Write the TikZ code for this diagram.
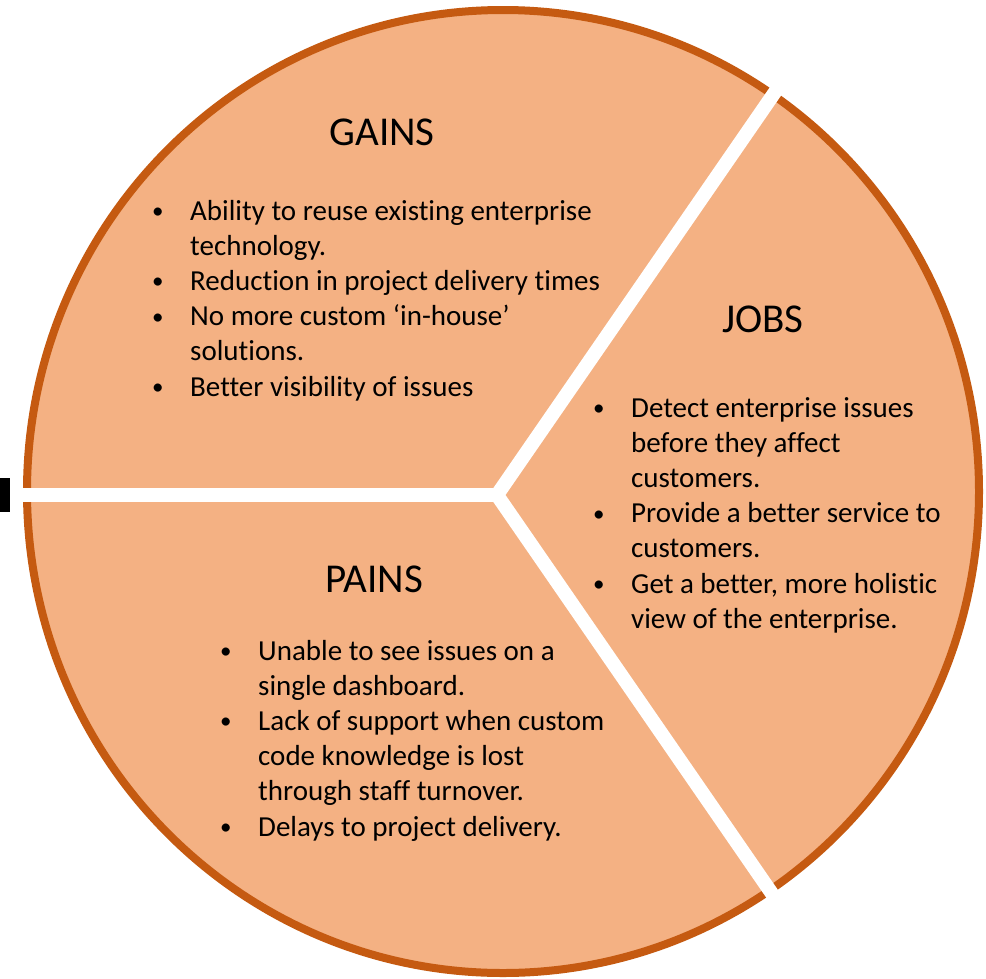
\documentclass[tikz,border=0pt]{standalone}
\usepackage{fontspec}
\setmainfont{Carlito}[Ligatures=NoCommon]
\definecolor{pfill}{HTML}{F4B183}
\definecolor{pedge}{HTML}{C55A11}
\newcommand\vpitem[1]{\par\noindent\hangindent=42pt\hangafter=1\makebox[42pt][l]{\hspace{4pt}\raisebox{1.5pt}{\fontsize{23}{23}\selectfont\textbullet}}#1\par}
\begin{document}
\begin{tikzpicture}[x=1pt,y=-1pt,
  ttl/.style={font=\fontsize{41}{48}\selectfont, anchor=base, inner sep=0pt, text=black},
  bodytext/.style={font=\fontsize{29}{35.2}\selectfont, anchor=base west, inner sep=0pt, text=black},
  divider/.style={draw=white, line width=14pt, line join=miter},
  rim/.style={draw=pedge, line width=8pt, fill=pfill}]
\useasboundingbox (0,0) rectangle (986,978);
% black mark at left
\fill[black] (0,478) rectangle (10,512);
% circle
\path[rim] (503,491.5) ellipse [x radius=476, y radius=481.5];
% dividers
\coordinate (hub) at (497,495);
\coordinate (upend) at (798,58.7);
\coordinate (downend) at (798,931.3);
\coordinate (leftend) at (14,495);
\draw[divider] (upend) -- (hub) -- (downend);
\draw[divider] (hub) -- (leftend);
% titles
\node[ttl] (gains) at (382,145) {GAINS};
\node[ttl] (jobs) at (763,332) {JOBS};
\node[ttl] (pains) at (374,592) {PAINS};
% bodies
\node[bodytext] (gainsbody) at (148,220) {\begin{minipage}[t]{500pt}\fontsize{29}{35.2}\selectfont\raggedright
\vpitem{Ability to reuse existing enterprise\newline technology.}
\vpitem{Reduction in project delivery times}
\vpitem{No more custom ‘in-house’\newline solutions.}
\vpitem{Better visibility of issues}
\end{minipage}};
\node[bodytext] (jobsbody) at (589,417) {\begin{minipage}[t]{400pt}\fontsize{29}{35.2}\selectfont\raggedright
\vpitem{Detect enterprise issues\newline before they affect\newline customers.}
\vpitem{Provide a better service to\newline customers.}
\vpitem{Get a better, more holistic\newline view of the enterprise.}
\end{minipage}};
\node[bodytext] (painsbody) at (216,660) {\begin{minipage}[t]{500pt}\fontsize{29}{35.2}\selectfont\raggedright
\vpitem{Unable to see issues on a\newline single dashboard.}
\vpitem{Lack of support when custom\newline code knowledge is lost\newline through staff turnover.}
\vpitem{Delays to project delivery.}
\end{minipage}};
\end{tikzpicture}
\end{document}
